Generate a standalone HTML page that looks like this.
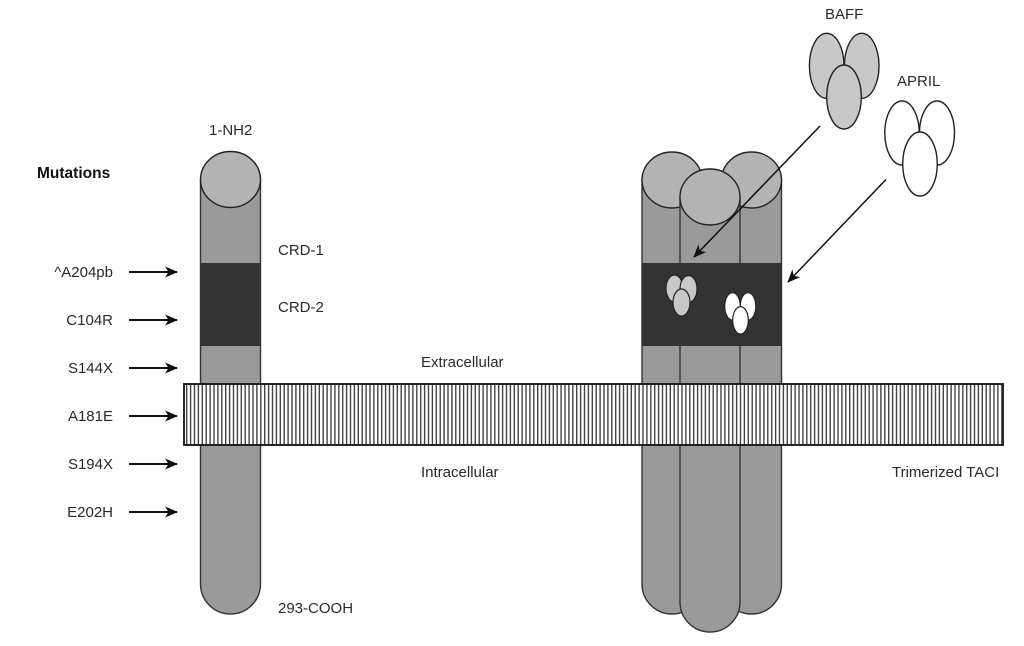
<!DOCTYPE html>
<html><head><meta charset="utf-8"><style>
html,body{margin:0;padding:0;background:#fff;}
svg{display:block;}
text{font-family:"Liberation Sans",Arial,sans-serif;fill:#2a2a2a;}
</style></head><body>
<svg width="1024" height="646" viewBox="0 0 1024 646" xmlns="http://www.w3.org/2000/svg">
<defs>
<marker id="ah" markerWidth="14" markerHeight="12" refX="12" refY="6" orient="auto" markerUnits="userSpaceOnUse">
<path d="M0,0.5 L13,6 L0,11.5 L3.5,6 Z" fill="#111"/>
</marker>
</defs>

<!-- Labels left -->
<text x="37" y="178" font-size="15.5" font-weight="bold" style="fill:#111">Mutations</text>
<g font-size="15" text-anchor="end">
<text x="113" y="277">^A204pb</text>
<text x="113" y="325">C104R</text>
<text x="113" y="373">S144X</text>
<text x="113" y="421">A181E</text>
<text x="113" y="469">S194X</text>
<text x="113" y="517">E202H</text>
</g>
<g stroke="#111" stroke-width="2" marker-end="url(#ah)">
<line x1="129" y1="272" x2="177" y2="272"/>
<line x1="129" y1="320" x2="177" y2="320"/>
<line x1="129" y1="368" x2="177" y2="368"/>
<line x1="129" y1="416" x2="177" y2="416"/>
<line x1="129" y1="464" x2="177" y2="464"/>
<line x1="129" y1="512" x2="177" y2="512"/>
</g>

<!-- Left monomer -->
<path d="M200.5,180 L200.5,584 A30,30 0 0 0 260.5,584 L260.5,180 Z" fill="#9a9a9a" stroke="#333" stroke-width="1.4"/>
<rect x="200.5" y="263" width="60" height="83" fill="#333"/>
<ellipse cx="230.5" cy="179.5" rx="30" ry="28" fill="#b3b3b3" stroke="#222" stroke-width="1.4"/>

<text x="209" y="135" font-size="15">1-NH2</text>
<text x="278" y="255" font-size="15">CRD-1</text>
<text x="278" y="312" font-size="15">CRD-2</text>
<text x="278" y="613" font-size="15">293-COOH</text>

<!-- Trimer -->
<path d="M642,180 L642,584 A30,30 0 0 0 702,584 L702,180 Z" fill="#9a9a9a" stroke="#333" stroke-width="1.4"/>
<ellipse cx="672" cy="180" rx="30" ry="28" fill="#b3b3b3" stroke="#222" stroke-width="1.4"/>
<path d="M721.5,180 L721.5,584 A30,30 0 0 0 781.5,584 L781.5,180 Z" fill="#9a9a9a" stroke="#333" stroke-width="1.4"/>
<ellipse cx="751.5" cy="180" rx="30" ry="28" fill="#b3b3b3" stroke="#222" stroke-width="1.4"/>
<path d="M680,197 L680,602 A30,30 0 0 0 740,602 L740,197 Z" fill="#9a9a9a" stroke="#333" stroke-width="1.4"/>
<ellipse cx="710" cy="197" rx="30" ry="28" fill="#b3b3b3" stroke="#222" stroke-width="1.4"/>
<rect x="642" y="263" width="139.5" height="83" fill="#333"/>

<!-- mini BAFF -->
<g stroke="#222" stroke-width="1.2" fill="#c8c8c8">
<ellipse cx="674.5" cy="288.5" rx="8.5" ry="13.5"/>
<ellipse cx="688.5" cy="289" rx="8.5" ry="13.5"/>
<ellipse cx="681.5" cy="302.5" rx="8.5" ry="13.5"/>
</g>
<!-- mini APRIL -->
<g stroke="#222" stroke-width="1.2" fill="#fff">
<ellipse cx="732.5" cy="306.3" rx="7.8" ry="13.7"/>
<ellipse cx="748" cy="306.3" rx="7.8" ry="13.7"/>
<ellipse cx="740.5" cy="320.3" rx="7.8" ry="13.7"/>
</g>

<!-- Membrane -->
<rect x="184" y="384" width="819" height="61" fill="#fff"/>
<line x1="186" y1="414.5" x2="1002" y2="414.5" stroke="#444" stroke-width="61" stroke-dasharray="1.4 2.5"/>
<rect x="184" y="384" width="819" height="61" fill="none" stroke="#111" stroke-width="1.8"/>

<text x="421" y="367" font-size="15">Extracellular</text>
<text x="421" y="477" font-size="15">Intracellular</text>
<text x="892" y="477" font-size="15">Trimerized TACI</text>

<!-- BAFF -->
<text x="825" y="19" font-size="15">BAFF</text>
<g stroke="#222" stroke-width="1.4" fill="#c8c8c8">
<ellipse cx="826.7" cy="65.8" rx="17.3" ry="32.5"/>
<ellipse cx="861.7" cy="65.8" rx="17.3" ry="32.5"/>
<ellipse cx="844" cy="97" rx="17.3" ry="32"/>
</g>
<!-- APRIL -->
<text x="897" y="86" font-size="15">APRIL</text>
<g stroke="#222" stroke-width="1.4" fill="#fff">
<ellipse cx="902" cy="133" rx="17.2" ry="32"/>
<ellipse cx="937" cy="133" rx="17.5" ry="32"/>
<ellipse cx="920" cy="164" rx="17.3" ry="32"/>
</g>

<!-- Binding arrows -->
<g stroke="#111" stroke-width="1.5" marker-end="url(#ah)">
<line x1="820" y1="126" x2="694" y2="257"/>
<line x1="886" y1="179.5" x2="788" y2="282"/>
</g>
</svg>
</body></html>
